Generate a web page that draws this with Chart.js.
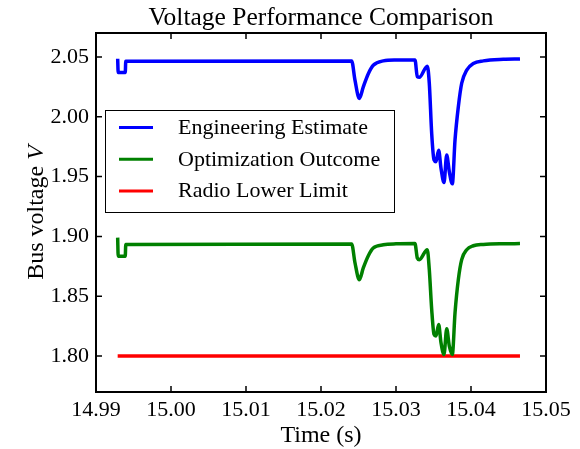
<!DOCTYPE html>
<html lang="en">
<head>
<meta charset="UTF-8">
<title>Voltage Performance Comparison</title>
<script src="https://cdn.jsdelivr.net/npm/chart.js"></script>
<style>
  html, body { margin: 0; padding: 0; background: #fff; }
  .wrap { position: relative; width: 580px; height: 449px; }
</style>
</head>
<body>
<div class="wrap"><canvas id="chart"></canvas></div>
<script>
// time axis shared by the two voltage traces (s)
const timeS = [
  14.99289, 14.99296, 14.99390, 14.99397, 15.02409, 15.02453, 15.02511, 15.02564,
  15.02631, 15.02697, 15.02831, 15.03000, 15.03253, 15.03284, 15.03311, 15.03417,
  15.03444, 15.03476, 15.03507, 15.03533, 15.03569, 15.03600, 15.03640, 15.03676,
  15.03711, 15.03751, 15.03787, 15.03831, 15.03876, 15.03943, 15.04031, 15.04164,
  15.04431, 15.04653
];
const engEstimate = [
  2.0485, 2.0370, 2.0370, 2.0464, 2.0466, 2.0306, 2.0153, 2.0250,
  2.0360, 2.0430, 2.0467, 2.0474, 2.0475, 2.0335, 2.0330, 2.0423,
  2.0280, 1.9860, 1.9640, 1.9625, 1.9720, 1.9570, 1.9450, 1.9680,
  1.9540, 1.9440, 1.9806, 2.0083, 2.0280, 2.0390, 2.0445, 2.0467,
  2.0480, 2.0483
];
const optOutcome = [
  1.8990, 1.8835, 1.8835, 1.8932, 1.8937, 1.8780, 1.8639, 1.8737,
  1.8839, 1.8903, 1.8930, 1.8938, 1.8940, 1.8820, 1.8806, 1.8889,
  1.8722, 1.8389, 1.8181, 1.8167, 1.8264, 1.8111, 1.8014, 1.8228,
  1.8083, 1.8014, 1.8361, 1.8639, 1.8806, 1.8889, 1.8922, 1.8933,
  1.8939, 1.8940
];
const limitTime = [14.99289, 15.04653];
const limitVolt = [1.80, 1.80];

const xTicks = [14.99, 15.00, 15.01, 15.02, 15.03, 15.04, 15.05];
const yTicks = [1.80, 1.85, 1.90, 1.95, 2.00, 2.05];
const seriesNames = ['Engineering Estimate', 'Optimization Outcome', 'Radio Lower Limit'];
const seriesColors = ['#0000ff', '#008000', '#ff0000'];
const chartTitle = 'Voltage Performance Comparison';

const SERIF = '"Liberation Serif", "Times New Roman", serif';

function pts(xs, ys) {
  return xs.map((t, i) => ({ x: t, y: ys[i] }));
}

// box around the plot + inward ticks on all four sides
const frameTicks = {
  id: 'frameTicks',
  afterDatasetsDraw(chart) {
    const { ctx, chartArea: a, scales: { x, y } } = chart;
    ctx.save();
    ctx.strokeStyle = '#000';
    ctx.lineWidth = 1.5;
    ctx.beginPath();
    xTicks.forEach(v => {
      const px = x.getPixelForValue(v);
      ctx.moveTo(px, a.bottom); ctx.lineTo(px, a.bottom - 6);
      ctx.moveTo(px, a.top); ctx.lineTo(px, a.top + 6);
    });
    yTicks.forEach(v => {
      const py = y.getPixelForValue(v);
      ctx.moveTo(a.left, py); ctx.lineTo(a.left + 6, py);
      ctx.moveTo(a.right, py); ctx.lineTo(a.right - 6, py);
    });
    ctx.stroke();
    ctx.lineWidth = 2;
    ctx.strokeRect(a.left, a.top, a.right - a.left, a.bottom - a.top);
    ctx.restore();
  }
};

// legend box inside the plot, upper left
const boxLegend = {
  id: 'boxLegend',
  afterDraw(chart) {
    const { ctx } = chart;
    const bx = 105, by = 110, bw = 289, bh = 102;
    ctx.save();
    ctx.fillStyle = '#fff';
    ctx.fillRect(bx, by, bw, bh);
    ctx.strokeStyle = '#000';
    ctx.lineWidth = 1;
    ctx.strokeRect(bx + 0.5, by + 0.5, bw, bh);
    ctx.font = '22px ' + SERIF;
    ctx.textBaseline = 'alphabetic';
    ctx.fillStyle = '#000';
    chart.data.datasets.forEach((ds, i) => {
      const ly = 127.5 + i * 31.7;
      ctx.strokeStyle = ds.borderColor;
      ctx.lineWidth = 3;
      ctx.beginPath();
      ctx.moveTo(119, ly);
      ctx.lineTo(153, ly);
      ctx.stroke();
      ctx.fillText(ds.label, 178, ly + 6.5);
    });
    ctx.restore();
  }
};

// title centred over the axes, y axis title with italic V
const axisTexts = {
  id: 'axisTexts',
  afterDraw(chart) {
    const { ctx, chartArea: a } = chart;
    ctx.save();
    ctx.fillStyle = '#000';
    ctx.textBaseline = 'alphabetic';
    ctx.textAlign = 'center';
    ctx.font = '25.5px ' + SERIF;
    ctx.fillText(chartTitle, (a.left + a.right) / 2, 25);

    const normal = '24px ' + SERIF, italic = 'italic 24px ' + SERIF;
    ctx.textAlign = 'left';
    ctx.translate(42.6, (a.top + a.bottom) / 2);
    ctx.rotate(-Math.PI / 2);
    ctx.font = normal;
    const w1 = ctx.measureText('Bus voltage ').width;
    ctx.font = italic;
    const w2 = ctx.measureText('V').width;
    const x0 = -(w1 + w2) / 2;
    ctx.font = normal;
    ctx.fillText('Bus voltage ', x0, 0);
    ctx.font = italic;
    ctx.fillText('V', x0 + w1, 0);
    ctx.restore();
  }
};

new Chart(document.getElementById('chart'), {
  type: 'line',
  data: {
    datasets: [
      { label: seriesNames[0], data: pts(timeS, engEstimate), borderColor: seriesColors[0] },
      { label: seriesNames[1], data: pts(timeS, optOutcome), borderColor: seriesColors[1] },
      { label: seriesNames[2], data: pts(limitTime, limitVolt), borderColor: seriesColors[2] }
    ]
  },
  options: {
    animation: false,
    responsive: true,
    maintainAspectRatio: false,
    layout: { padding: { left: 0, right: 34, top: 33, bottom: 0 } },
    elements: {
      line: { borderWidth: 3.5, fill: false, cubicInterpolationMode: 'monotone' },
      point: { radius: 0, hoverRadius: 0 }
    },
    scales: {
      x: {
        type: 'linear',
        min: 14.99,
        max: 15.05,
        grid: { display: false, drawTicks: false },
        border: { display: false },
        afterBuildTicks: s => { s.ticks = xTicks.map(v => ({ value: v })); },
        afterFit: s => { s.height = 57; },
        ticks: {
          padding: 5,
          color: '#000',
          font: { family: SERIF, size: 22 },
          callback: v => v.toFixed(2)
        },
        title: {
          display: true,
          text: 'Time (s)',
          color: '#000',
          padding: { top: 0, bottom: -1 },
          font: { family: SERIF, size: 24 }
        }
      },
      y: {
        min: 1.77,
        max: 2.07,
        grid: { display: false, drawTicks: false },
        border: { display: false },
        afterBuildTicks: s => { s.ticks = yTicks.map(v => ({ value: v })); },
        afterFit: s => { s.width = 96; },
        ticks: {
          padding: 7,
          color: '#000',
          font: { family: SERIF, size: 22 },
          callback: v => v.toFixed(2)
        }
      }
    },
    plugins: {
      legend: { display: false },
      tooltip: { enabled: false },
      title: { display: false }
    }
  },
  plugins: [frameTicks, boxLegend, axisTexts]
});
</script>
</body>
</html>
